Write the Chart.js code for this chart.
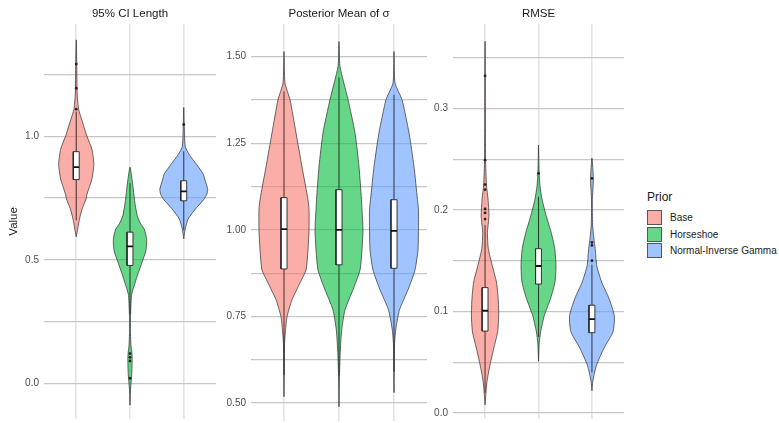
<!DOCTYPE html>
<html>
<head>
<meta charset="utf-8">
<script src="https://cdn.jsdelivr.net/npm/chart.js@4.4.1/dist/chart.umd.min.js"></script>
<style>
  body { margin: 0; background: #fff; width: 779px; height: 423px; position: relative; overflow: hidden;
         font-family: "Liberation Sans", Arial, sans-serif; }
  canvas { position: absolute; top: 0; }
  #legend { position: absolute; left: 647px; top: 0; }
  #legend .title { position: absolute; top: 190px; left: 0; font-size: 12px; line-height: 15px; color: #1a1a1a; }
  #legend .key { position: absolute; left: 0; width: 15px; height: 15px; box-sizing: border-box; border: 1px solid #555; }
  #legend .lab { position: absolute; left: 23px; font-size: 10px; line-height: 15px; color: #1a1a1a; white-space: nowrap; }
</style>
</head>
<body>
<canvas id="c1" width="220" height="423" style="left:0px"></canvas>
<canvas id="c2" width="207" height="423" style="left:220px"></canvas>
<canvas id="c3" width="201" height="423" style="left:427px"></canvas>
<div id="legend"><div class="title">Prior</div></div>
<script>
const priors = ['Base', 'Horseshoe', 'Normal-Inverse Gamma'];
const panelTitles = ['95% CI Length', 'Posterior Mean of σ', 'RMSE'];

// violin outlines: values and half widths (category units)
const ciBaseY = [0.593, 0.625, 0.665, 0.706, 0.746, 0.766, 0.827, 0.887, 0.948, 1.0, 1.069, 1.109, 1.169, 1.294, 1.391];
const ciBaseW = [0, 0.027, 0.06, 0.109, 0.182, 0.2, 0.291, 0.327, 0.291, 0.2, 0.1, 0.045, 0.018, 0.009, 0];
const ciHorseY = [-0.089, -0.04, 0.02, 0.05, 0.093, 0.12, 0.153, 0.2, 0.262, 0.355, 0.383, 0.435, 0.492, 0.532, 0.55, 0.585, 0.625, 0.645, 0.677, 0.718, 0.746, 0.78, 0.815, 0.875];
const ciHorseW = [0, 0.005, 0.027, 0.036, 0.04, 0.036, 0.018, 0.009, 0.009, 0.027, 0.06, 0.136, 0.227, 0.291, 0.304, 0.309, 0.264, 0.2, 0.136, 0.1, 0.082, 0.064, 0.045, 0];
const ciBlueY = [0.585, 0.625, 0.665, 0.706, 0.746, 0.766, 0.786, 0.827, 0.847, 0.887, 0.927, 0.96, 1.048, 1.117];
const ciBlueW = [0, 0.027, 0.082, 0.218, 0.38, 0.43, 0.445, 0.39, 0.364, 0.236, 0.1, 0.027, 0.009, 0];

const sgBaseY = [0.518, 0.6, 0.668, 0.702, 0.749, 0.798, 0.847, 0.884, 0.942, 1.0, 1.058, 1.087, 1.182, 1.28, 1.376, 1.424, 1.515];
const sgBaseW = [0, 0.005, 0.009, 0.024, 0.055, 0.145, 0.291, 0.4, 0.436, 0.455, 0.455, 0.436, 0.327, 0.218, 0.109, 0.018, 0];
const sgHorseY = [0.489, 0.581, 0.653, 0.711, 0.769, 0.827, 0.884, 0.942, 1.0, 1.058, 1.087, 1.182, 1.28, 1.376, 1.472, 1.544];
const sgHorseW = [0, 0.009, 0.024, 0.049, 0.109, 0.255, 0.382, 0.418, 0.436, 0.418, 0.409, 0.364, 0.291, 0.164, 0.018, 0];
const sgBlueY = [0.53, 0.62, 0.668, 0.711, 0.769, 0.827, 0.884, 0.942, 1.0, 1.058, 1.087, 1.182, 1.28, 1.376, 1.424, 1.515];
const sgBlueW = [0, 0.005, 0.009, 0.031, 0.1, 0.255, 0.382, 0.436, 0.445, 0.445, 0.427, 0.364, 0.273, 0.145, 0.018, 0];

const rmBaseY = [0.008, 0.015, 0.031, 0.047, 0.064, 0.08, 0.096, 0.113, 0.129, 0.145, 0.162, 0.178, 0.194, 0.211, 0.224, 0.25, 0.3, 0.366];
const rmBaseW = [0, 0.009, 0.036, 0.091, 0.164, 0.236, 0.255, 0.245, 0.213, 0.136, 0.06, 0.045, 0.073, 0.055, 0.027, 0.009, 0.005, 0];
const rmHorseY = [0.051, 0.069, 0.08, 0.096, 0.113, 0.129, 0.145, 0.162, 0.178, 0.194, 0.211, 0.224, 0.24, 0.264];
const rmHorseW = [0, 0.013, 0.04, 0.109, 0.227, 0.309, 0.327, 0.304, 0.236, 0.145, 0.064, 0.027, 0.009, 0];
const rmBlueY = [0.022, 0.031, 0.047, 0.064, 0.08, 0.096, 0.113, 0.129, 0.145, 0.162, 0.172, 0.185, 0.21, 0.23, 0.251];
const rmBlueW = [0, 0.015, 0.085, 0.227, 0.395, 0.418, 0.318, 0.182, 0.091, 0.06, 0.036, 0.013, 0.007, 0.027, 0];

// boxplots: [lower whisker, q1, median, q3, upper whisker]
const ciBoxes = [[0.66, 0.825, 0.875, 0.938, 1.10], [0.28, 0.477, 0.554, 0.612, 0.81], [0.62, 0.739, 0.777, 0.82, 0.94]];
const sgBoxes = [[0.58, 0.887, 1.002, 1.093, 1.40], [0.58, 0.899, 1.0, 1.116, 1.44], [0.59, 0.889, 0.997, 1.087, 1.39]];
const rmBoxes = [[0.02, 0.0807, 0.1007, 0.1235, 0.185], [0.075, 0.127, 0.1448, 0.1618, 0.213], [0.04, 0.0791, 0.0925, 0.1062, 0.146]];

const ciOutliers = [[1.11, 1.195, 1.293], [0.02, 0.09, 0.105, 0.12], [1.048]];
const sgOutliers = [[], [], []];
const rmOutliers = [[0.191, 0.197, 0.201, 0.22, 0.225, 0.249, 0.332], [0.236], [0.15, 0.165, 0.168, 0.231]];

// y axes
const ciRange = [-0.145, 1.456];
const ciMajor = [0, 0.5, 1.0];
const ciMinor = [0.25, 0.75, 1.25];
const ciLabels = ['0.0', '0.5', '1.0'];
const sgRange = [0.448, 1.595];
const sgMajor = [0.5, 0.75, 1.0, 1.25, 1.5];
const sgMinor = [0.625, 0.875, 1.125, 1.375];
const sgLabels = ['0.50', '0.75', '1.00', '1.25', '1.50'];
const rmRange = [-0.0059, 0.3833];
const rmMajor = [0, 0.1, 0.2, 0.3];
const rmMinor = [0.05, 0.15, 0.25, 0.35];
const rmLabels = ['0.0', '0.1', '0.2', '0.3'];

const fills = ['rgba(248, 118, 109, 0.6)', 'rgba(0, 186, 56, 0.6)', 'rgba(97, 156, 255, 0.6)'];
const BOX = 0.055;

Chart.defaults.font.family = '"Liberation Sans", Arial, sans-serif';
Chart.defaults.animation = false;

function violinPoints(pos, ys, ws) {
  const right = ys.map((y, i) => ({x: pos + ws[i], y: y}));
  const left = ys.map((y, i) => ({x: pos - ws[i], y: y})).reverse();
  return right.concat(left.slice(1));
}

function getDataSets(ys, ws, boxes, outliers) {
  const sets = [];
  priors.forEach((p, i) => {
    const pos = i + 1;
    const b = boxes[i];
    sets.push({
      data: violinPoints(pos, ys[i], ws[i]), showLine: true, fill: 'shape',
      backgroundColor: fills[i], borderColor: '#2b2b2b', borderWidth: 0.7,
      tension: 0.2, pointRadius: 0, order: 4
    });
    sets.push({
      data: [{x: pos, y: b[0]}, {x: pos, y: b[1]}, {x: pos, y: null}, {x: pos, y: b[3]}, {x: pos, y: b[4]}],
      showLine: true, spanGaps: false, fill: false, borderColor: '#1a1a1a', borderWidth: 0.8, pointRadius: 0, order: 3
    });
    sets.push({
      data: [{x: pos - BOX, y: b[1]}, {x: pos + BOX, y: b[1]}, {x: pos + BOX, y: b[3]}, {x: pos - BOX, y: b[3]}, {x: pos - BOX, y: b[1]}],
      showLine: true, fill: 'shape', backgroundColor: '#fff', borderColor: '#222', borderWidth: 0.9, pointRadius: 0, order: 2
    });
    sets.push({
      data: [{x: pos - BOX, y: b[2]}, {x: pos + BOX, y: b[2]}],
      showLine: true, fill: false, borderColor: '#111', borderWidth: 1.8, pointRadius: 0, order: 1
    });
    sets.push({
      data: outliers[i].map(v => ({x: pos, y: v})), showLine: false,
      pointRadius: 1.4, pointBorderWidth: 0, pointBackgroundColor: '#222', borderColor: '#222', order: 0
    });
  });
  return sets;
}

function drawPanel(id, title, datasets, range, major, minor, labels, axisWidth, showTitle) {
  return new Chart(document.getElementById(id), {
    type: 'scatter',
    data: { datasets: datasets },
    options: {
      responsive: false,
      events: [],
      layout: { padding: { bottom: 2 } },
      plugins: {
        legend: { display: false },
        tooltip: { enabled: false },
        title: {
          display: true, text: title, fullSize: false, color: '#1a1a1a',
          font: { size: 11.5, weight: 'normal' }, padding: { top: 7, bottom: 3 }
        }
      },
      scales: {
        x: {
          type: 'linear', min: 0.4, max: 3.6, bounds: 'data',
          afterBuildTicks: s => { s.ticks = priors.map((p, i) => ({value: i + 1})); },
          afterFit: s => { s.height = 0; s.paddingLeft = 0; s.paddingRight = 0; },
          ticks: { display: false },
          border: { display: false },
          grid: { color: '#e3e3e3', lineWidth: 1.6, drawTicks: false, z: -2 }
        },
        y: {
          type: 'linear', min: range[0], max: range[1], bounds: 'data',
          afterBuildTicks: s => { s.ticks = major.concat(minor).map(v => ({value: v})); },
          afterFit: s => { s.width = axisWidth; s.paddingTop = 0; s.paddingBottom = 0; },
          ticks: {
            autoSkip: false, padding: 5, color: '#4d4d4d', font: { size: 10 },
            callback: v => { const k = major.indexOf(v); return k >= 0 ? labels[k] : ''; }
          },
          border: { display: false },
          grid: { color: '#c6c6c6', lineWidth: 1.2, drawTicks: false, z: -1 },
          title: {
            display: showTitle, text: 'Value', color: '#1a1a1a',
            font: { size: 11.5 }, padding: { top: 7, bottom: 0 }
          }
        }
      }
    }
  });
}

drawPanel('c1', panelTitles[0],
  getDataSets([ciBaseY, ciHorseY, ciBlueY], [ciBaseW, ciHorseW, ciBlueW], ciBoxes, ciOutliers),
  ciRange, ciMajor, ciMinor, ciLabels, 44, true);
drawPanel('c2', panelTitles[1],
  getDataSets([sgBaseY, sgHorseY, sgBlueY], [sgBaseW, sgHorseW, sgBlueW], sgBoxes, sgOutliers),
  sgRange, sgMajor, sgMinor, sgLabels, 31, false);
drawPanel('c3', panelTitles[2],
  getDataSets([rmBaseY, rmHorseY, rmBlueY], [rmBaseW, rmHorseW, rmBlueW], rmBoxes, rmOutliers),
  rmRange, rmMajor, rmMinor, rmLabels, 26, false);

// legend
const legend = document.getElementById('legend');
priors.forEach((p, i) => {
  const key = document.createElement('div');
  key.className = 'key';
  key.style.top = (210 + i * 16.5) + 'px';
  key.style.background = fills[i];
  legend.appendChild(key);
  const lab = document.createElement('div');
  lab.className = 'lab';
  lab.style.top = (210 + i * 16.5) + 'px';
  lab.textContent = p;
  legend.appendChild(lab);
});
</script>
</body>
</html>
